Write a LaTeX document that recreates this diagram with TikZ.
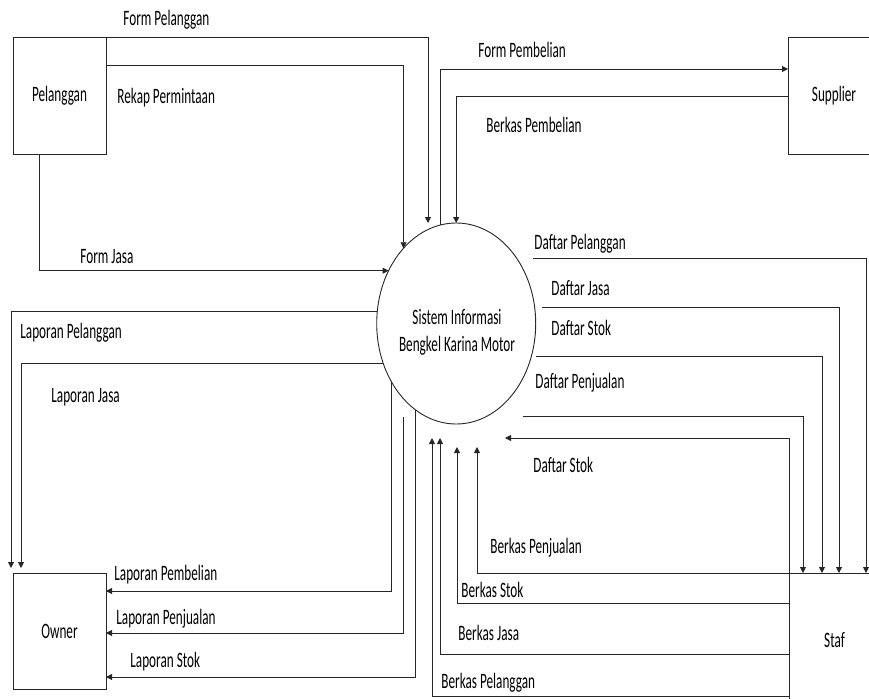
\documentclass[tikz,border=0pt]{standalone}
\usepackage{fontspec}
\setmainfont{Carlito}[FakeStretch=0.6]
\usetikzlibrary{arrows.meta,shapes.geometric}
\begin{document}
\begin{tikzpicture}[x=1pt,y=-1pt,
  line width=0.9pt,
  every node/.style={font=\fontsize{22}{27}\selectfont},
  flow/.style={draw=black!85, -{Triangle[length=6pt,width=6pt]}},
  entity/.style={draw=black!85, rectangle, inner sep=0pt, outer sep=0pt},
  lbl/.style={anchor=base west, inner sep=0pt},
]
\useasboundingbox (0,0) rectangle (869,698);
\clip (0,0) rectangle (869,698);

% entities
\node[entity, minimum width=93pt, minimum height=117pt] (pel) at (59.5,95.5) {Pelanggan};
\node[entity, minimum width=92pt, minimum height=117pt] (sup) at (834,95.5) {Supplier};
\node[entity, minimum width=93pt, minimum height=116pt] (own) at (59.5,631) {Owner};
\node[entity, minimum width=91pt, minimum height=134pt] (staf) at (834.5,640) {Staf};

% process
\node[draw=black!85, ellipse, minimum width=159pt, minimum height=201pt, inner sep=0pt, outer sep=0pt] (sys) at (456.2,323.5) {};
\node[align=center, inner sep=0pt] (systxt) at (457,332) {Sistem Informasi\\Bengkel Karina Motor};

% free ends
\coordinate (dpS) at (533,258);
\coordinate (djS) at (542,307);
\coordinate (dsS) at (536,356);
\coordinate (dpjS) at (523,416);
\coordinate (dsTip) at (505,438);
\coordinate (bpTip) at (477,447);
\coordinate (bsTip) at (457,447);
\coordinate (bjTip) at (440,438);
\coordinate (bplTip) at (432,438);
\coordinate (olA) at (11,568);
\coordinate (olB) at (21,568);
\coordinate (lpjS) at (403,417);

% Pelanggan flows
\draw[flow] (pel.north east) -| (sys.north -| 428,0);
\draw[flow] (pel.east |- 0,65) -| (sys.125.5);
\draw[flow] (39,0 |- pel.south) |- (sys.142.3);

% Supplier flows
\draw[flow] (sys.99.35) |- (sup.west |- 0,69);
\draw[flow] (sup.west |- 0,96) -| (sys.north);

% Staf flows
\draw[flow] (dpS) -| (staf.north -| 866,0);
\draw[flow] (djS) -| (staf.north -| 839,0);
\draw[flow] (dsS) -| (staf.north -| 822,0);
\draw[flow] (dpjS) -| (staf.north -| 803,0);
\draw[flow] (staf.north west) |- (dsTip);
\draw[flow] (staf.north west) -| (bpTip);
\draw[flow] (staf.west |- 0,603) -| (bsTip);
\draw[flow] (staf.west |- 0,654) -| (bjTip);
\draw[flow] (staf.west |- 0,696.5) -| (bplTip);

% Owner flows
\draw[flow] (sys.171.7) -| (olA);
\draw[flow] (sys.209.8) -| (olB);
\draw[flow] (sys.222.7) |- (own.east |- 0,591);
\draw[flow] (lpjS) |- (own.east |- 0,633);
\draw[flow] (sys.245.9) |- (own.east |- 0,677);

% labels
\node[lbl] (l1) at (123,26) {Form Pelanggan};
\node[lbl] (l2) at (117,104) {Rekap Permintaan};
\node[lbl] (l3) at (80,263) {Form Jasa};
\node[lbl] (l4) at (478,58) {Form Pembelian};
\node[lbl] (l5) at (486,132) {Berkas Pembelian};
\node[lbl] (l6) at (534,249) {Daftar Pelanggan};
\node[lbl] (l7) at (551,295) {Daftar Jasa};
\node[lbl] (l8) at (551,335) {Daftar Stok};
\node[lbl] (l9) at (535,388) {Daftar Penjualan};
\node[lbl] (l10) at (533,472) {Daftar Stok};
\node[lbl] (l11) at (490,553) {Berkas Penjualan};
\node[lbl] (l12) at (461,597) {Berkas Stok};
\node[lbl] (l13) at (458,640) {Berkas Jasa};
\node[lbl] (l14) at (441,688) {Berkas Pelanggan};
\node[lbl] (l15) at (20,338) {Laporan Pelanggan};
\node[lbl] (l16) at (51,402) {Laporan Jasa};
\node[lbl] (l17) at (114,580) {Laporan Pembelian};
\node[lbl] (l18) at (116,624) {Laporan Penjualan};
\node[lbl] (l19) at (130,667) {Laporan Stok};
\end{tikzpicture}
\end{document}
